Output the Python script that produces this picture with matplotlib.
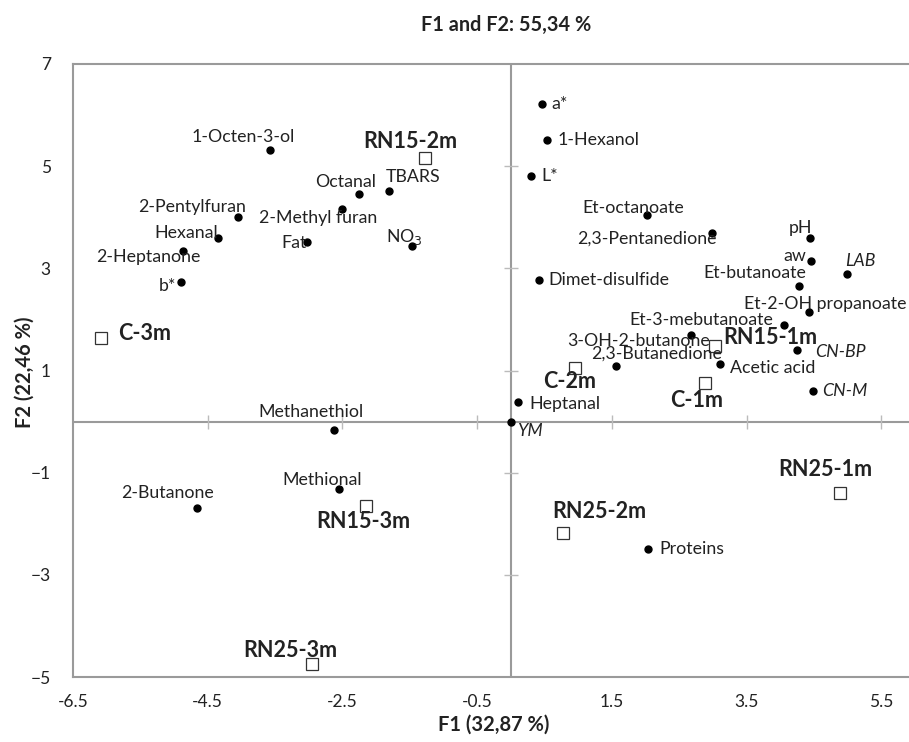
import matplotlib
matplotlib.use("Agg")
from matplotlib import pyplot as plt

plt.rcParams['font.family'] = ['Lato', 'DejaVu Sans']

# observations (open squares)
obs_names = ['RN15-2m', 'C-3m', 'RN15-1m', 'C-2m', 'C-1m',
             'RN25-1m', 'RN25-2m', 'RN15-3m', 'RN25-3m']
obs_x = [-1.28, -6.08, 3.03, 0.95, 2.88, 4.89, 0.78, -2.15, -2.95]
obs_y = [5.16, 1.63, 1.47, 1.04, 0.75, -1.39, -2.18, -1.65, -4.75]

# variables (filled dots)
var_names = ['a*', '1-Hexanol', 'L*', 'Et-octanoate', '2,3-Pentanedione', 'pH',
             'aw', 'LAB', 'Et-butanoate', 'Dimet-disulfide', 'Et-2-OH propanoate',
             'Et-3-mebutanoate', '3-OH-2-butanone', 'CN-BP', '2,3-Butanedione',
             'Acetic acid', 'CN-M', 'Heptanal', 'YM', 'Methanethiol', 'Methional',
             '2-Butanone', 'Proteins', '1-Octen-3-ol', 'Octanal', 'TBARS',
             '2-Methyl furan', '2-Pentylfuran', 'Hexanal', 'Fat', 'NO$_3$',
             '2-Heptanone', 'b*']
var_x = [0.46, 0.54, 0.30, 2.02, 2.99, 4.44, 4.46, 4.99, 4.27, 0.42, 4.43,
         4.06, 2.68, 4.25, 1.56, 3.11, 4.49, 0.11, 0.0, -2.62, -2.55,
         -4.66, 2.04, -3.57, -2.26, -1.81, -2.51, -4.05, -4.35, -3.02, -1.47,
         -4.86, -4.89]
var_y = [6.22, 5.51, 4.80, 4.04, 3.69, 3.59, 3.14, 2.88, 2.65, 2.78, 2.14,
         1.90, 1.69, 1.41, 1.08, 1.12, 0.59, 0.39, 0.0, -0.16, -1.31,
         -1.69, -2.49, 5.31, 4.45, 4.51, 4.16, 4.00, 3.59, 3.51, 3.43,
         3.33, 2.73]
italic_vars = ['LAB', 'CN-BP', 'CN-M', 'YM']

xticks = [-6.5, -4.5, -2.5, -0.5, 1.5, 3.5, 5.5]
yticks = [-5, -3, -1, 1, 3, 5, 7]

# label placement: (dx, dy in pixels, horizontal alignment)
obs_pos = {
    'RN15-2m': (-14, 16, 'center'), 'C-3m': (17, 5, 'left'),
    'RN15-1m': (8, 9, 'left'), 'C-2m': (-5, -13, 'center'),
    'C-1m': (-8, -17, 'center'), 'RN25-1m': (-15, 23, 'center'),
    'RN25-2m': (36, 21, 'center'), 'RN15-3m': (-3, -16, 'center'),
    'RN25-3m': (-22, 14, 'center'),
}
var_pos = {
    'a*': (10, 0, 'left'), '1-Hexanol': (10, 0, 'left'), 'L*': (10, 0, 'left'),
    'Et-octanoate': (-14, 7, 'center'), '2,3-Pentanedione': (-65, -6, 'center'),
    'pH': (-9, 10, 'center'), 'aw': (-5, 5, 'right'), 'LAB': (-2, 13, 'left'),
    'Et-butanoate': (8, 13, 'right'), 'Dimet-disulfide': (9, 0, 'left'),
    'Et-2-OH propanoate': (16, 8, 'center'), 'Et-3-mebutanoate': (-11, 5, 'right'),
    '3-OH-2-butanone': (19, -6, 'right'), 'CN-BP': (18, -2, 'left'),
    '2,3-Butanedione': (41, 13, 'center'), 'Acetic acid': (10, -4, 'left'),
    'CN-M': (9, 0, 'left'), 'Heptanal': (11, -2, 'left'), 'YM': (6, -9, 'left'),
    'Methanethiol': (-23, 18, 'center'), 'Methional': (-17, 9, 'center'),
    '2-Butanone': (-29, 15, 'center'), 'Proteins': (11, 0, 'left'),
    '1-Octen-3-ol': (-27, 13, 'center'), 'Octanal': (-13, 12, 'center'),
    'TBARS': (-3, 14, 'left'), '2-Methyl furan': (-24, -9, 'center'),
    '2-Pentylfuran': (-46, 10, 'center'), 'Hexanal': (-32, 5, 'center'),
    'Fat': (-1, -1, 'right'), 'NO$_3$': (-7, 9, 'center'),
    '2-Heptanone': (-35, -6, 'center'), 'b*': (-5, -4, 'right'),
}

grey = '#9a9a9a'
txt = '#222222'
W, H = 909, 742

fig = plt.figure(figsize=(W / 100, H / 100), dpi=100)
ax = fig.add_axes([73 / W, 1 - 677 / H, 1 - 73 / W, (677 - 64) / H])
ax.set_xlim(-6.5, 5.91)
ax.set_ylim(-5, 7)

# centre lines with crossing tick marks
ax.axhline(0, color=grey, lw=1.5, zorder=1)
ax.axvline(0, color=grey, lw=1.5, zorder=1)
ax.plot(xticks[1:], [0] * (len(xticks) - 1), '|', ms=10, mew=1, color='#bbbbbb', zorder=1)
ax.plot([0] * (len(yticks) - 2), yticks[1:-1], '_', ms=10, mew=1, color='#bbbbbb', zorder=1)

ax.plot(var_x, var_y, 'o', ms=5, color='black', zorder=3)
ax.plot(obs_x, obs_y, 's', ms=9, mfc='white', mec='#333333', mew=0.9, zorder=3)

for n, x, y in zip(var_names, var_x, var_y):
    dx, dy, ha = var_pos[n]
    ax.annotate(n, (x, y), xytext=(dx, dy), textcoords='offset pixels',
                ha=ha, va='center', fontsize=12.8, color=txt,
                style='italic' if n in italic_vars else 'normal', zorder=4)

for n, x, y in zip(obs_names, obs_x, obs_y):
    dx, dy, ha = obs_pos[n]
    ax.annotate(n, (x, y), xytext=(dx, dy), textcoords='offset pixels',
                ha=ha, va='center', fontsize=15.5, fontweight='bold', color=txt, zorder=4)

ax.set_xticks(xticks)
ax.set_yticks(yticks)
ax.set_xticklabels([f'{t:g}' for t in xticks])
ax.tick_params(length=0, labelsize=12.5, colors=txt)
ax.tick_params(axis='x', pad=12)
ax.tick_params(axis='y', pad=16)
for s in ['left', 'top', 'bottom']:
    ax.spines[s].set_color(grey)
    ax.spines[s].set_linewidth(1.5)
ax.spines['right'].set_visible(False)

fig.text(506 / W, 1 - 25 / H, 'F1 and F2: 55,34 %', ha='center', va='center',
         fontsize=14.3, fontweight='bold', color=txt)
fig.text(494 / W, 1 - 725 / H, 'F1 (32,87 %)', ha='center', va='center',
         fontsize=14.5, fontweight='bold', color=txt)
fig.text(25 / W, 1 - 372 / H, 'F2 (22,46 %)', ha='center', va='center', rotation=90,
         fontsize=14.5, fontweight='bold', color=txt)

fig.savefig('out.png', dpi=100)
